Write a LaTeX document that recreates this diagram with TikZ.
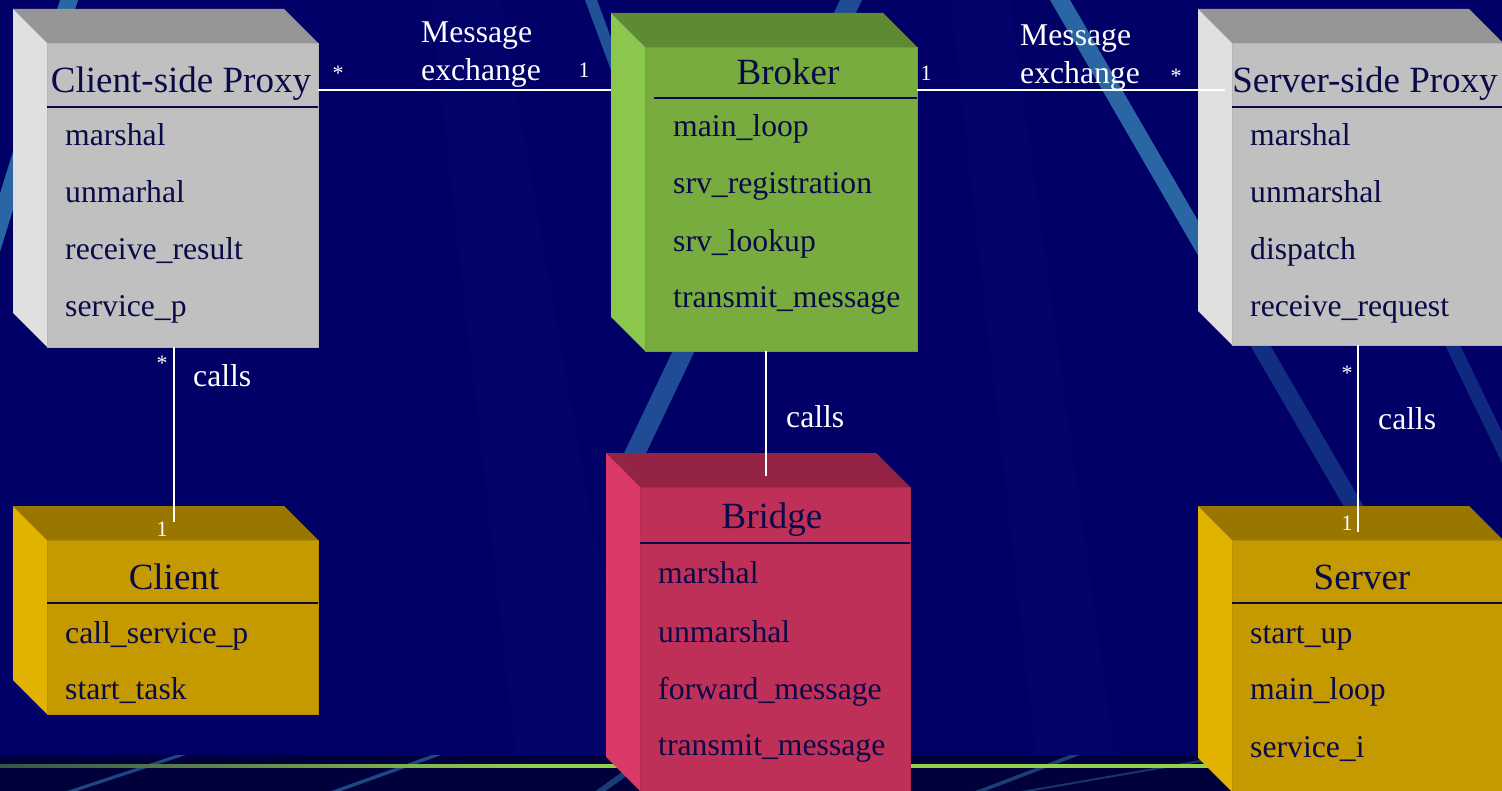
\documentclass[tikz,border=0pt]{standalone}
\usepackage{fontspec}
\setmainfont{Liberation Serif}
\usetikzlibrary{calc}

\definecolor{navy}{HTML}{000066}
\definecolor{navydeep}{HTML}{00003A}
\definecolor{beam}{HTML}{10208C}
\definecolor{ray}{HTML}{2A66A4}
\definecolor{ink}{HTML}{0A0A48}
\definecolor{lime}{HTML}{92D050}
\definecolor{limedim}{HTML}{3A5548}
% box palettes: front, top and side walls
\definecolor{grayfront}{HTML}{C0C0C0}
\definecolor{graytop}{HTML}{969696}
\definecolor{grayside}{HTML}{E0E0E0}
\definecolor{greenfront}{HTML}{78AC3F}
\definecolor{greentop}{HTML}{5F8A34}
\definecolor{greenside}{HTML}{8BC74C}
\definecolor{redfront}{HTML}{BF3058}
\definecolor{redtop}{HTML}{952444}
\definecolor{redside}{HTML}{DB3A68}
\definecolor{goldfront}{HTML}{C49A00}
\definecolor{goldtop}{HTML}{987600}
\definecolor{goldside}{HTML}{E2B200}

% side and top walls of a class solid, drawn around its front node
\newcommand\solidwalls[2]{%
  \fill[#2top] (#1.north west) -- ++(-34,-34) -- ($(#1.north east)+(-34,-34)$) -- (#1.north east) -- cycle;
  \fill[#2side] (#1.north west) -- ++(-34,-34) -- ($(#1.south west)+(-34,-34)$) -- (#1.south west) -- cycle;
}

\begin{document}
\begin{tikzpicture}[x=1pt,y=-1pt,
  frontwall/.style={rectangle, anchor=north west, inner sep=0pt, outer sep=0pt,
    fill=#1front, draw=#1front!92!black, line width=0.6pt},
  title/.style={text=ink, font=\fontsize{37}{44}\selectfont, anchor=base, inner sep=0pt},
  attr/.style={text=ink, font=\fontsize{31.7}{38}\selectfont, anchor=base west, inner sep=0pt},
  note/.style={text=white, font=\fontsize{31.7}{38}\selectfont, anchor=base west, inner sep=0pt},
  mult/.style={text=white, font=\fontsize{22}{26}\selectfont, anchor=base, inner sep=0pt},
  wire/.style={draw=white, line width=2.2pt},
  divider/.style={draw=ink, line width=2.5pt}]
\useasboundingbox (0,0) rectangle (1502,791);
\begin{scope}
\clip (0,0) rectangle (1502,791);

% background with light rays
\fill[navy] (0,0) rectangle (1502,791);
\fill[beam, opacity=.12] (430,0) -- (500,0) -- (640,791) -- (520,791) -- cycle;
\fill[beam, opacity=.12] (950,0) -- (1010,0) -- (1120,791) -- (1040,791) -- cycle;
\fill[ray] (60,0) -- (78,0) -- (-46,400) -- (-64,400) -- cycle;
\fill[ray, opacity=.8] (585,0) -- (597,0) -- (660,170) -- (648,170) -- cycle;
\fill[ray, opacity=.75] (840,0) -- (862,0) -- (638,470) -- (616,470) -- cycle;
\fill[ray] (1050,0) -- (1070,0) -- (1270,345) -- (1250,345) -- cycle;
\fill[ray, opacity=.45] (1250,345) -- (1270,345) -- (1529,791) -- (1509,791) -- cycle;
\fill[ray, opacity=.4] (1445,345) -- (1460,345) -- (1530,490) -- (1515,490) -- cycle;

% dark footer band with its green rule
\fill[navydeep] (0,755) rectangle (1502,791);
\begin{scope}
  \clip (0,755) rectangle (1502,791);
  \fill[ray, opacity=.7] (185,752) -- (195,752) -- (65,795) -- (55,795) -- cycle;
  \fill[ray, opacity=.7] (440,752) -- (450,752) -- (330,795) -- (320,795) -- cycle;
  \fill[ray, opacity=.6] (650,752) -- (660,752) -- (600,795) -- (590,795) -- cycle;
  \fill[ray, opacity=.6] (1070,755) -- (1080,755) -- (975,795) -- (965,795) -- cycle;
  \fill[ray, opacity=.5] (1200,760) -- (1212,760) -- (1010,795) -- (998,795) -- cycle;
\end{scope}
\foreach \i in {0,...,53} {
  \pgfmathtruncatemacro\t{\i*100/53}
  \fill[lime!\t!limedim] (\i*10,764) rectangle (\i*10+10.5,768);
}
\fill[lime] (540,764) rectangle (1502,768);

% class solids
\node[frontwall=gray, minimum width=271pt, minimum height=304pt] (csp) at (47,43) {};
\solidwalls{csp}{gray}
\node[frontwall=green, minimum width=272pt, minimum height=304pt] (brk) at (645,47) {};
\solidwalls{brk}{green}
\node[frontwall=gray, minimum width=271pt, minimum height=302pt] (ssp) at (1232,43) {};
\solidwalls{ssp}{gray}
\node[frontwall=gold, minimum width=271pt, minimum height=174pt] (cli) at (47,540) {};
\solidwalls{cli}{gold}
\node[frontwall=red, minimum width=270pt, minimum height=304pt] (brg) at (640,487) {};
\solidwalls{brg}{red}
\node[frontwall=gold, minimum width=271pt, minimum height=252pt] (srv) at (1232,540) {};
\solidwalls{srv}{gold}

% Client-side Proxy
\node[title] (csp-t) at (181,93) {Client-side Proxy};
\draw[divider] (csp.west |- 0,107) -- (csp.east |- 0,107);
\node[attr] (csp-a1) at (65,146) {marshal};
\node[attr] (csp-a2) at (65,203) {unmarhal};
\node[attr] (csp-a3) at (65,260) {receive\_result};
\node[attr] (csp-a4) at (65,317) {service\_p};

% Broker
\node[title] (brk-t) at (788,85) {Broker};
\draw[divider] (654,98) -- (brk.east |- 0,98);
\node[attr] (brk-a1) at (673,137) {main\_loop};
\node[attr] (brk-a2) at (673,194) {srv\_registration};
\node[attr] (brk-a3) at (673,252) {srv\_lookup};
\node[attr] (brk-a4) at (673,308) {transmit\_message};

% Server-side Proxy
\node[title] (ssp-t) at (1365,93) {Server-side Proxy};
\draw[divider] (ssp.west |- 0,107) -- (ssp.east |- 0,107);
\node[attr] (ssp-a1) at (1250,146) {marshal};
\node[attr] (ssp-a2) at (1250,203) {unmarshal};
\node[attr] (ssp-a3) at (1250,260) {dispatch};
\node[attr] (ssp-a4) at (1250,317) {receive\_request};

% Client
\node[title] (cli-t) at (174,589) {Client};
\draw[divider] (cli.west |- 0,603) -- (cli.east |- 0,603);
\node[attr] (cli-a1) at (65,643) {call\_service\_p};
\node[attr] (cli-a2) at (65,699) {start\_task};

% Bridge
\node[title] (brg-t) at (772,528) {Bridge};
\draw[divider] (brg.west |- 0,543) -- (brg.east |- 0,543);
\node[attr] (brg-a1) at (658,583) {marshal};
\node[attr] (brg-a2) at (658,642) {unmarshal};
\node[attr] (brg-a3) at (658,699) {forward\_message};
\node[attr] (brg-a4) at (658,755) {transmit\_message};

% Server
\node[title] (srv-t) at (1362,589) {Server};
\draw[divider] (srv.west |- 0,603) -- (srv.east |- 0,603);
\node[attr] (srv-a1) at (1250,643) {start\_up};
\node[attr] (srv-a2) at (1250,699) {main\_loop};
\node[attr] (srv-a3) at (1250,757) {service\_i};

% associations
\coordinate (lvl) at (0,90);
\draw[wire] (csp.east |- lvl) -- ([xshift=-34pt]brk.west |- lvl);
\draw[wire] (brk.east |- lvl) -- ([xshift=-7pt]ssp.west |- lvl);
\draw[wire] ([xshift=-8.5pt]csp.south) -- ([xshift=-8.5pt,yshift=18pt]cli.north);
\draw[wire] ([xshift=-15pt]brk.south) -- ([xshift=-9pt,yshift=11pt]brg.north);
\draw[wire] ([xshift=-9.5pt]ssp.south) -- ([xshift=-9.5pt,yshift=8pt]srv.north);

% association labels
\node[mult] (m1) at (338,81) {*};
\node[note] (x1a) at (421,43) {Message};
\node[note] (x1b) at (421,81) {exchange};
\node[mult] (m2) at (584,78) {1};
\node[mult] (m3) at (926,81) {1};
\node[note] (x2a) at (1020,46) {Message};
\node[note] (x2b) at (1020,84) {exchange};
\node[mult] (m4) at (1176,84) {*};

\node[mult] (m5) at (162,371) {*};
\node[note] (c1) at (193,387) {calls};
\node[mult] (m6) at (162,536) {1};

\node[note] (c2) at (786,428) {calls};

\node[mult] (m7) at (1347,381) {*};
\node[note] (c3) at (1378,429) {calls};
\node[mult] (m8) at (1347,530) {1};
\end{scope}
\end{tikzpicture}
\end{document}
